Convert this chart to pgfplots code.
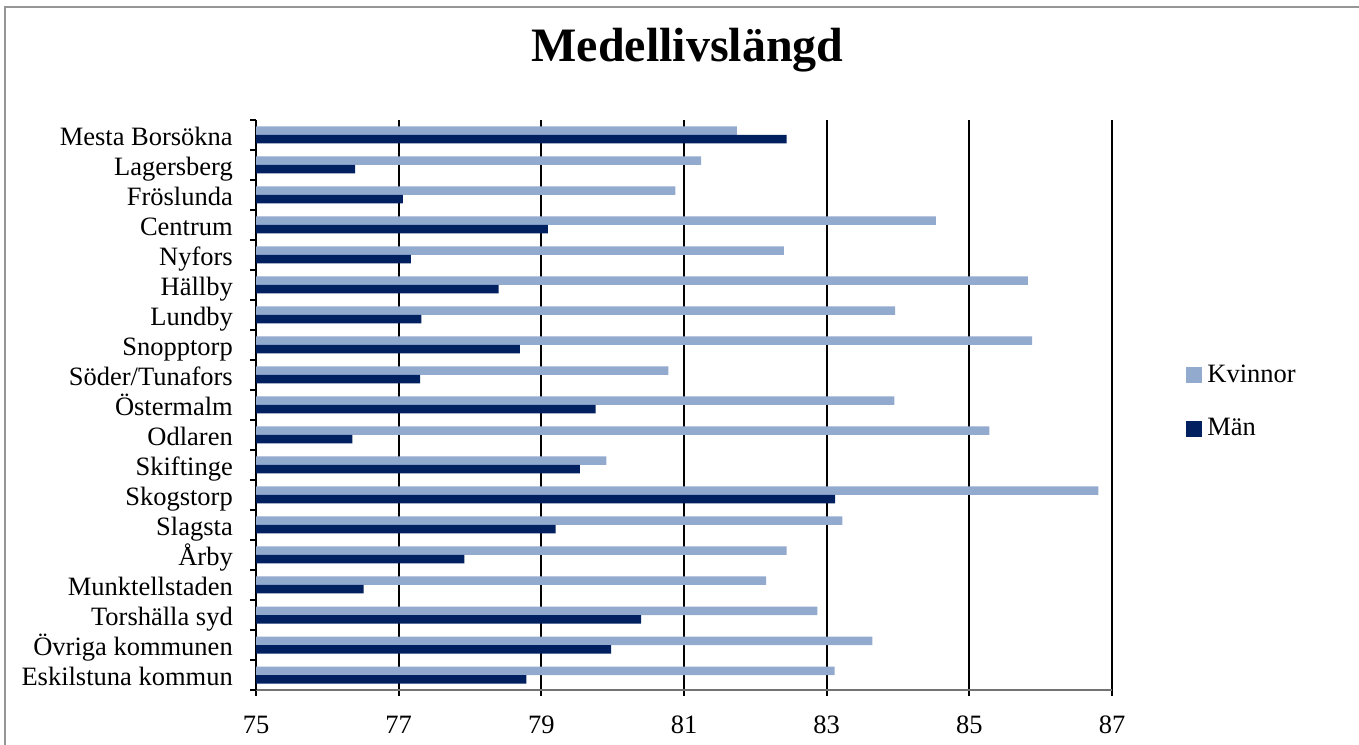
\documentclass[border=0pt]{standalone}
\usepackage{fontspec}
\setmainfont{Liberation Serif}
\usepackage{pgfplots}
\usepackage{pgfplotstable}
\pgfplotsset{compat=1.18}

\definecolor{kvinnor}{RGB}{147,170,207}
\definecolor{man}{RGB}{0,32,96}
\definecolor{framegray}{RGB}{150,150,150}

% y = 0 is the bottom category (Eskilstuna kommun)
\pgfplotstableread{
y  kvinnor man
0  83.11  78.79
1  83.64  79.98
2  82.87  80.40
3  82.15  76.51
4  82.44  77.92
5  83.22  79.20
6  86.81  83.12
7  79.91  79.54
8  85.28  76.35
9  83.95  79.76
10 80.78  77.30
11 85.88  78.70
12 83.96  77.32
13 85.82  78.40
14 82.40  77.17
15 84.53  79.09
16 80.88  77.06
17 81.24  76.39
18 81.74  82.44
}\livtable

\begin{document}
\fontsize{13.25}{15}\selectfont
\begin{tikzpicture}
\path[use as bounding box] (0,0) rectangle (679.5pt,372pt);
% outer frame (cropped)
\draw[framegray, line width=1pt] (2.5pt,-5pt) -- (2.5pt,368.5pt) -- (690pt,368.5pt);
\node[font=\bfseries\fontsize{24}{28}\selectfont] at (343.75pt,347pt) {Medellivslängd};

\begin{axis}[
  at={(128pt,27pt)}, anchor=south west,
  scale only axis,
  width=428pt, height=285pt,
  xbar,
  bar width=4.25pt,
  xmin=75, xmax=87,
  ymin=-0.5, ymax=18.5,
  xtick={75,77,...,87},
  ytick={0,...,18},
  yticklabels={Eskilstuna kommun,Övriga kommunen,Torshälla syd,Munktellstaden,Årby,Slagsta,Skogstorp,Skiftinge,Odlaren,Östermalm,Söder/Tunafors,Snopptorp,Lundby,Hällby,Nyfors,Centrum,Fröslunda,Lagersberg,Mesta Borsökna},
  minor ytick={-0.5,0.5,...,18.5},
  axis lines*=left,
  x axis line style={-, draw=black!55, line width=1pt},
  y axis line style={-, draw=black, line width=1pt},
  xmajorgrids,
  major grid style={black, line width=1pt},
  tick align=outside,
  major tick length=5.5pt,
  minor tick length=3pt,
  major x tick style={black, line width=1pt, yshift=2.75pt},
  major y tick style={draw=none},
  minor y tick style={black, line width=1pt},
  /pgf/number format/assume math mode=true,
  xticklabel style={yshift=-3pt},
  yticklabel style={anchor=base east, yshift=-5.3pt, xshift=-1.5pt},
  legend style={at={(1.0864,0.505)}, anchor=west, draw=none, fill=none,
    inner sep=0pt, row sep=11pt, nodes={inner sep=2.5pt}},
  legend cell align=left,
  legend image code/.code={\fill[#1] (0pt,-4pt) rectangle (8pt,4pt);},
]
\addplot[fill=kvinnor, draw=none, bar shift=2.125pt] table[x=kvinnor, y=y] {\livtable};
\addlegendentry{Kvinnor}
\addplot[fill=man, draw=none, bar shift=-2.125pt] table[x=man, y=y] {\livtable};
\addlegendentry{Män}
\end{axis}
\end{tikzpicture}
\end{document}
